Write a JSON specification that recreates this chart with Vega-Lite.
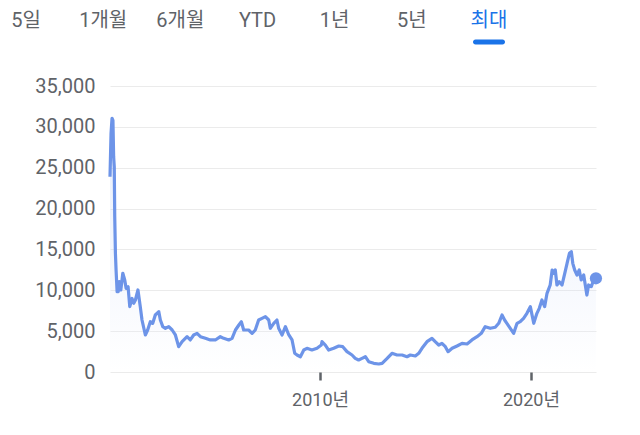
{
  "$schema": "https://vega.github.io/schema/vega-lite/v6.json",
  "autosize": {"type": "pad"},
  "padding": {"left": 11, "top": 2, "right": 39, "bottom": 20},
  "background": "white",
  "config": {
    "font": "Roboto, Noto Sans CJK KR",
    "view": {"stroke": null}
  },
  "bounds": "flush",
  "spacing": 46,
  "datasets": {
    "tabs": [
      {"tab": "5일", "sel": "no"},
      {"tab": "1개월", "sel": "no"},
      {"tab": "6개월", "sel": "no"},
      {"tab": "YTD", "sel": "no"},
      {"tab": "1년", "sel": "no"},
      {"tab": "5년", "sel": "no"},
      {"tab": "최대", "sel": "yes"}
    ],
    "prices": [
      {"date": "2000-01-17", "price": 23900},
      {"date": "2000-02-04", "price": 29200},
      {"date": "2000-02-21", "price": 31050},
      {"date": "2000-03-08", "price": 30800},
      {"date": "2000-03-20", "price": 26350},
      {"date": "2000-03-31", "price": 25100},
      {"date": "2000-04-08", "price": 19000},
      {"date": "2000-04-20", "price": 14500},
      {"date": "2000-05-01", "price": 12500},
      {"date": "2000-05-19", "price": 9830},
      {"date": "2000-06-06", "price": 9830},
      {"date": "2000-06-28", "price": 11050},
      {"date": "2000-07-22", "price": 10040},
      {"date": "2000-08-26", "price": 12080},
      {"date": "2000-09-28", "price": 11260},
      {"date": "2000-10-22", "price": 10240},
      {"date": "2000-11-25", "price": 10440},
      {"date": "2000-12-24", "price": 8000},
      {"date": "2001-02-02", "price": 9000},
      {"date": "2001-03-03", "price": 8410},
      {"date": "2001-04-01", "price": 8810},
      {"date": "2001-05-15", "price": 10040},
      {"date": "2001-06-24", "price": 8000},
      {"date": "2001-07-24", "price": 6365},
      {"date": "2001-09-20", "price": 4530},
      {"date": "2001-10-30", "price": 5140},
      {"date": "2001-12-15", "price": 6160},
      {"date": "2002-01-26", "price": 5960},
      {"date": "2002-03-11", "price": 6980},
      {"date": "2002-05-11", "price": 7380},
      {"date": "2002-06-07", "price": 6365},
      {"date": "2002-07-19", "price": 5550},
      {"date": "2002-09-02", "price": 5350},
      {"date": "2002-10-30", "price": 5550},
      {"date": "2002-12-28", "price": 5140},
      {"date": "2003-02-22", "price": 4530},
      {"date": "2003-04-20", "price": 3100},
      {"date": "2003-06-18", "price": 3710},
      {"date": "2003-09-12", "price": 4320},
      {"date": "2003-11-07", "price": 3920},
      {"date": "2004-01-05", "price": 4530},
      {"date": "2004-03-03", "price": 4730},
      {"date": "2004-05-01", "price": 4320},
      {"date": "2004-07-25", "price": 4120},
      {"date": "2004-10-19", "price": 3920},
      {"date": "2005-01-14", "price": 3920},
      {"date": "2005-04-10", "price": 4320},
      {"date": "2005-06-08", "price": 4120},
      {"date": "2005-09-02", "price": 3920},
      {"date": "2005-10-30", "price": 4120},
      {"date": "2005-12-28", "price": 5140},
      {"date": "2006-02-25", "price": 5750},
      {"date": "2006-04-09", "price": 6160},
      {"date": "2006-05-19", "price": 5140},
      {"date": "2006-08-13", "price": 5140},
      {"date": "2006-10-12", "price": 4730},
      {"date": "2006-12-06", "price": 5140},
      {"date": "2007-02-02", "price": 6365},
      {"date": "2007-04-01", "price": 6570},
      {"date": "2007-05-30", "price": 6770},
      {"date": "2007-07-27", "price": 6365},
      {"date": "2007-08-23", "price": 5350},
      {"date": "2007-10-22", "price": 5960},
      {"date": "2007-12-16", "price": 6365},
      {"date": "2008-01-15", "price": 5350},
      {"date": "2008-03-14", "price": 4530},
      {"date": "2008-05-11", "price": 5550},
      {"date": "2008-07-09", "price": 4530},
      {"date": "2008-09-03", "price": 3920},
      {"date": "2008-10-19", "price": 2290},
      {"date": "2008-11-28", "price": 2080},
      {"date": "2009-01-25", "price": 1870},
      {"date": "2009-03-25", "price": 2690},
      {"date": "2009-05-19", "price": 2900},
      {"date": "2009-08-13", "price": 2690},
      {"date": "2009-11-09", "price": 2900},
      {"date": "2010-01-23", "price": 3300},
      {"date": "2010-02-03", "price": 3710},
      {"date": "2010-04-02", "price": 3300},
      {"date": "2010-05-30", "price": 2690},
      {"date": "2010-08-25", "price": 2900},
      {"date": "2010-11-21", "price": 3180},
      {"date": "2011-01-29", "price": 3100},
      {"date": "2011-04-12", "price": 2490},
      {"date": "2011-07-08", "price": 2080},
      {"date": "2011-09-02", "price": 1670},
      {"date": "2011-10-30", "price": 1470},
      {"date": "2011-12-28", "price": 1670},
      {"date": "2012-02-24", "price": 1870},
      {"date": "2012-04-22", "price": 1260},
      {"date": "2012-07-19", "price": 1060},
      {"date": "2012-10-13", "price": 980},
      {"date": "2012-12-10", "price": 1060},
      {"date": "2013-03-07", "price": 1670},
      {"date": "2013-05-30", "price": 2290},
      {"date": "2013-08-25", "price": 2080},
      {"date": "2013-11-21", "price": 2080},
      {"date": "2014-02-14", "price": 1870},
      {"date": "2014-04-12", "price": 2080},
      {"date": "2014-07-08", "price": 1960},
      {"date": "2014-09-05", "price": 2290},
      {"date": "2014-10-31", "price": 2900},
      {"date": "2015-01-26", "price": 3710},
      {"date": "2015-04-22", "price": 4120},
      {"date": "2015-06-17", "price": 3710},
      {"date": "2015-08-17", "price": 3300},
      {"date": "2015-10-12", "price": 3510},
      {"date": "2015-12-10", "price": 3100},
      {"date": "2016-01-26", "price": 2490},
      {"date": "2016-04-05", "price": 2900},
      {"date": "2016-06-29", "price": 3180},
      {"date": "2016-09-24", "price": 3510},
      {"date": "2016-12-20", "price": 3430},
      {"date": "2017-03-14", "price": 3920},
      {"date": "2017-06-10", "price": 4320},
      {"date": "2017-08-23", "price": 4730},
      {"date": "2017-10-30", "price": 5550},
      {"date": "2018-01-26", "price": 5350},
      {"date": "2018-04-22", "price": 5470},
      {"date": "2018-06-21", "price": 5960},
      {"date": "2018-08-17", "price": 6980},
      {"date": "2018-10-01", "price": 6365},
      {"date": "2018-11-09", "price": 5960},
      {"date": "2019-01-07", "price": 5350},
      {"date": "2019-03-07", "price": 4730},
      {"date": "2019-05-04", "price": 5960},
      {"date": "2019-06-28", "price": 6160},
      {"date": "2019-08-25", "price": 6570},
      {"date": "2019-10-22", "price": 7180},
      {"date": "2019-12-20", "price": 8000},
      {"date": "2020-02-17", "price": 5960},
      {"date": "2020-04-12", "price": 7180},
      {"date": "2020-05-23", "price": 7790},
      {"date": "2020-07-08", "price": 8810},
      {"date": "2020-08-24", "price": 8000},
      {"date": "2020-10-04", "price": 9630},
      {"date": "2020-11-28", "price": 10650},
      {"date": "2021-01-01", "price": 12480},
      {"date": "2021-01-29", "price": 12080},
      {"date": "2021-02-24", "price": 12480},
      {"date": "2021-03-25", "price": 10650},
      {"date": "2021-05-04", "price": 11050},
      {"date": "2021-06-21", "price": 10650},
      {"date": "2021-08-07", "price": 12080},
      {"date": "2021-09-16", "price": 13300},
      {"date": "2021-10-27", "price": 14530},
      {"date": "2021-11-29", "price": 14730},
      {"date": "2021-12-24", "price": 13300},
      {"date": "2022-01-26", "price": 12480},
      {"date": "2022-03-07", "price": 11870},
      {"date": "2022-04-15", "price": 12480},
      {"date": "2022-05-19", "price": 11260},
      {"date": "2022-07-01", "price": 11870},
      {"date": "2022-08-25", "price": 9420},
      {"date": "2022-09-24", "price": 10650},
      {"date": "2022-11-09", "price": 10440},
      {"date": "2022-12-20", "price": 11260},
      {"date": "2023-01-29", "price": 11470}
    ]
  },
  "vconcat": [
    {
      "width": 486,
      "height": 38,
      "data": {"name": "tabs"},
      "encoding": {
        "x": {
          "field": "tab",
          "type": "nominal",
          "sort": null,
          "axis": null,
          "scale": {"type": "point", "padding": 0, "range": [-84, 379]}
        }
      },
      "layer": [
        {
          "mark": {"type": "text", "fontSize": 20, "baseline": "middle", "align": "center"},
          "encoding": {
            "text": {"field": "tab", "type": "nominal"},
            "color": {
              "field": "sel",
              "type": "nominal",
              "scale": {"domain": ["no", "yes"], "range": ["#5f6368", "#1a73e8"]},
              "legend": null
            }
          }
        },
        {
          "transform": [{"filter": "datum.sel == 'yes'"}],
          "mark": {"type": "tick", "orient": "horizontal", "size": 32, "thickness": 5, "color": "#1a73e8", "cornerRadius": 2.5, "opacity": 1, "yOffset": 21},
          "encoding": {}
        }
      ]
    },
    {
      "width": 486,
      "height": 286,
      "data": {"name": "prices"},
      "encoding": {
        "x": {
          "field": "date",
          "type": "temporal",
          "title": null,
          "scale": {"domain": ["2000-01-17", "2023-01-30"], "nice": false},
          "axis": {
            "values": [{"year": 2010, "month": 1, "date": 1}, {"year": 2020, "month": 1, "date": 1}],
            "format": "%Y년",
            "domain": false,
            "grid": false,
            "ticks": true,
            "tickSize": 8,
            "tickWidth": 2.5,
            "tickColor": "#5f6368",
            "labelFontSize": 18,
            "labelColor": "#5f6368",
            "labelPadding": 11
          }
        },
        "y": {
          "field": "price",
          "type": "quantitative",
          "title": null,
          "scale": {"domain": [0, 35000], "nice": false},
          "axis": {
            "values": [0, 5000, 10000, 15000, 20000, 25000, 30000, 35000],
            "format": ",.0f",
            "domain": false,
            "ticks": false,
            "grid": true,
            "gridColor": "#ebebeb",
            "gridWidth": 1,
            "labelFontSize": 20,
            "labelColor": "#5f6368",
            "labelPadding": 15
          }
        }
      },
      "layer": [
        {
          "mark": {
            "type": "area",
            "fillOpacity": 0.16,
            "fill": {
              "gradient": "linear",
              "x1": 0, "y1": 0, "x2": 0, "y2": 1,
              "stops": [
                {"offset": 0, "color": "#6d94e8"},
                {"offset": 1, "color": "#ffffff"}
              ]
            }
          }
        },
        {
          "mark": {"type": "line", "color": "#6d94e8", "strokeWidth": 3.2, "strokeJoin": "round"}
        },
        {
          "transform": [
            {"window": [{"op": "row_number", "as": "r"}], "sort": [{"field": "date", "order": "descending"}]},
            {"filter": "datum.r == 1"}
          ],
          "mark": {"type": "point", "filled": true, "size": 150, "color": "#6d94e8", "opacity": 1}
        }
      ]
    }
  ]
}
